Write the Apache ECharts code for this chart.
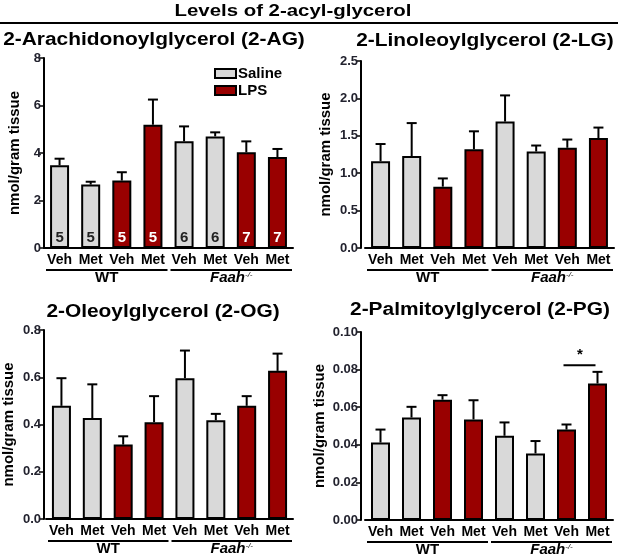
<!DOCTYPE html>
<html><head><meta charset="utf-8">
<script src="https://cdn.jsdelivr.net/npm/echarts@6/dist/echarts.min.js"></script>
<style>html,body{margin:0;padding:0;background:#fff}#c{width:622px;height:557px}</style>
</head><body><div id="c"></div>
<script>
// ---- data ----
const categories = ['Veh','Met','Veh','Met','Veh','Met','Veh','Met'];
const treatment = ['Saline','Saline','LPS','LPS','Saline','Saline','LPS','LPS'];
const groupNames = ['WT','Faah'];
const groupFrom = [0,4];
const groupTo = [3,7];
const mainTitle = 'Levels of 2-acyl-glycerol';
const panelTitles = ['2-Arachidonoylglycerol (2-AG)','2-Linoleoylglycerol (2-LG)','2-Oleoylglycerol (2-OG)','2-Palmitoylglycerol (2-PG)'];
const yAxisName = 'nmol/gram tissue';

const ag_mean  = [3.48,2.67,2.84,5.19,4.49,4.70,4.03,3.83];
const ag_upper = [3.76,2.79,3.19,6.25,5.12,4.87,4.49,4.17];
const ag_n     = [5,5,5,5,6,6,7,7];
const lg_mean  = [1.16,1.23,0.82,1.32,1.69,1.29,1.34,1.47];
const lg_upper = [1.39,1.67,0.93,1.56,2.04,1.37,1.45,1.61];
const og_mean  = [0.479,0.427,0.315,0.41,0.596,0.418,0.479,0.627];
const og_upper = [0.596,0.57,0.35,0.52,0.713,0.445,0.52,0.70];
const pg_mean  = [0.0412,0.0545,0.064,0.0535,0.0448,0.0354,0.0481,0.0726];
const pg_upper = [0.0481,0.0602,0.0664,0.0637,0.0519,0.042,0.0508,0.0788];

const yMax = [8, 2.5, 0.8, 0.10];
const yStep = [2, 0.5, 0.2, 0.02];
const yDecimals = [0, 1, 1, 2];

const sigFrom = 6, sigTo = 7, sigLevel = 0.0823, sigMark = '*';

// ---- layout ----
const FONT = "'Liberation Sans', Arial, sans-serif";
const grids = [
  {left: 44, top: 58, width: 249, height: 190},
  {left: 365, top: 61, width: 249, height: 187},
  {left: 44, top: 330, width: 249, height: 189},
  {left: 365, top: 332, width: 248, height: 188}
];
const yOffsets = [0, 4, 2, 4];
const nameGaps = [22, 28, 28, 34];
const means = [ag_mean, lg_mean, og_mean, pg_mean];
const uppers = [ag_upper, lg_upper, og_upper, pg_upper];
const titlePos = [[154,40],[485,41],[163,312],[480,310]];

const xAxes = [], yAxes = [], series = [];
for (let p = 0; p < 4; p++) {
  xAxes.push({
    type: 'category', gridIndex: p, data: categories,
    axisLine: {lineStyle: {color: '#000', width: 2}},
    axisTick: {alignWithLabel: true, length: 3, lineStyle: {color: '#000', width: 1.5}},
    axisLabel: {interval: 0, margin: 5, color: '#000', fontWeight: 'bold', fontSize: 14, fontFamily: FONT}
  });
  yAxes.push({
    type: 'value', gridIndex: p, min: 0, max: yMax[p], interval: yStep[p], offset: yOffsets[p],
    name: yAxisName, nameLocation: 'middle', nameGap: nameGaps[p],
    nameTextStyle: {color: '#000', fontWeight: 'bold', fontSize: 15, fontFamily: FONT},
    axisLine: {show: true, lineStyle: {color: '#000', width: 2}},
    axisTick: {show: true, length: 5, lineStyle: {color: '#000', width: 1.5}},
    splitLine: {show: false},
    axisLabel: {margin: 3, color: '#22222e', fontWeight: 'bold', fontSize: 13, fontFamily: FONT,
      formatter: (v => v.toFixed(yDecimals[p]))}
  });
  const m = means[p], u = uppers[p];
  ['Saline','LPS'].forEach(t => {
    const s = {
      type: 'bar', name: t, xAxisIndex: p, yAxisIndex: p,
      barWidth: 19, barGap: '-100%',
      data: m.map((v, i) => treatment[i] === t ? v : '-'),
      itemStyle: {color: t === 'Saline' ? '#d9d9d9' : '#990000', borderColor: '#000', borderWidth: 2},
      emphasis: {disabled: true}, z: 2
    };
    if (p === 0) {
      s.label = {show: true, position: 'insideBottom', distance: 3,
        color: t === 'Saline' ? '#222' : '#fff', fontWeight: 'bold', fontSize: 15, fontFamily: FONT,
        formatter: prm => String(ag_n[prm.dataIndex])};
    }
    series.push(s);
  });
  // error bars
  series.push({
    type: 'custom', xAxisIndex: p, yAxisIndex: p, z: 3,
    data: m.map((v, i) => [i, v, u[i]]),
    encode: {x: 0, y: [1, 2]},
    renderItem: (params, api) => {
      const i = api.value(0);
      const a = api.coord([i, api.value(1)]);
      const b = api.coord([i, api.value(2)]);
      const cw = 5;
      return {type: 'group', children: [
        {type: 'line', shape: {x1: a[0], y1: a[1], x2: b[0], y2: b[1]}, style: {stroke: '#000', lineWidth: 2}},
        {type: 'line', shape: {x1: b[0]-cw, y1: b[1], x2: b[0]+cw, y2: b[1]}, style: {stroke: '#000', lineWidth: 2}}
      ]};
    }
  });
  // group underline + labels
  series.push({
    type: 'custom', xAxisIndex: p, yAxisIndex: p, z: 3, silent: true,
    data: groupNames.map((g, k) => [groupFrom[k], groupTo[k], 0, k]),
    encode: {x: [0, 1], y: 2},
    renderItem: (params, api) => {
      const bw = api.size([1, 0])[0];
      const s = api.coord([api.value(0), 0]);
      const e = api.coord([api.value(1), 0]);
      const x1 = s[0] - bw/2 + 2, x2 = e[0] + bw/2 - 1;
      const y = s[1] + 22;
      const k = api.value(3);
      const txt = k === 0 ? '{n|WT}' : '{i|Faah}{s|-/-}';
      return {type: 'group', children: [
        {type: 'line', shape: {x1: x1, y1: y, x2: x2, y2: y}, style: {stroke: '#000', lineWidth: 2}},
        {type: 'text', x: (x1 + x2)/2, y: y + 1, style: {
          text: txt, align: 'center', verticalAlign: 'top', fill: '#000',
          rich: {
            n: {fontWeight: 'bold', fontSize: 15, fontFamily: FONT, fill: '#000', lineHeight: 14},
            i: {fontWeight: 'bold', fontStyle: 'italic', fontSize: 15, fontFamily: FONT, fill: '#000', lineHeight: 14},
            s: {fontStyle: 'italic', fontSize: 8, fontFamily: FONT, fill: '#000', verticalAlign: 'top', lineHeight: 14}
          }
        }}
      ]};
    }
  });
}
// significance bracket in panel 4
series.push({
  type: 'custom', xAxisIndex: 3, yAxisIndex: 3, z: 4, silent: true,
  data: [[sigFrom, sigTo, sigLevel]],
  encode: {x: [0, 1], y: 2},
  renderItem: (params, api) => {
    const a = api.coord([api.value(0), api.value(2)]);
    const b = api.coord([api.value(1), api.value(2)]);
    return {type: 'group', children: [
      {type: 'line', shape: {x1: a[0]-3, y1: a[1], x2: b[0]-2, y2: b[1]}, style: {stroke: '#000', lineWidth: 2}},
      {type: 'text', x: (a[0]+b[0])/2 - 2, y: a[1] - 3, style: {text: sigMark, align: 'center', verticalAlign: 'bottom',
        fill: '#000', fontWeight: 'bold', fontSize: 15, fontFamily: FONT}}
    ]};
  }
});

const graphics = [
  {type: 'text', x: 293, y: 11, scaleX: 1.2, style: {text: mainTitle, align: 'center', verticalAlign: 'middle',
    fill: '#000', fontWeight: 'bold', fontSize: 17, fontFamily: FONT}},
  {type: 'line', shape: {x1: 0, y1: 23, x2: 618, y2: 23}, style: {stroke: '#000', lineWidth: 2}}
];
panelTitles.forEach((t, p) => graphics.push({type: 'text', x: titlePos[p][0], y: titlePos[p][1], scaleX: 1.16,
  style: {text: t, align: 'center', verticalAlign: 'middle', fill: '#000', fontWeight: 'bold', fontSize: 18, fontFamily: FONT}}));

const chart = echarts.init(document.getElementById('c'), null, {renderer: 'canvas'});
chart.setOption({
  animation: false,
  backgroundColor: '#fff',
  grid: grids,
  xAxis: xAxes,
  yAxis: yAxes,
  legend: {
    data: ['Saline', 'LPS'], orient: 'vertical', left: 209, top: 60,
    itemWidth: 21, itemHeight: 9, itemGap: 0, icon: 'rect',
    textStyle: {color: '#000', fontWeight: 'bold', fontSize: 15, lineHeight: 17, fontFamily: FONT, padding: [0,0,0,-3]},
    selectedMode: false
  },
  graphic: graphics,
  series: series
});
</script></body></html>
